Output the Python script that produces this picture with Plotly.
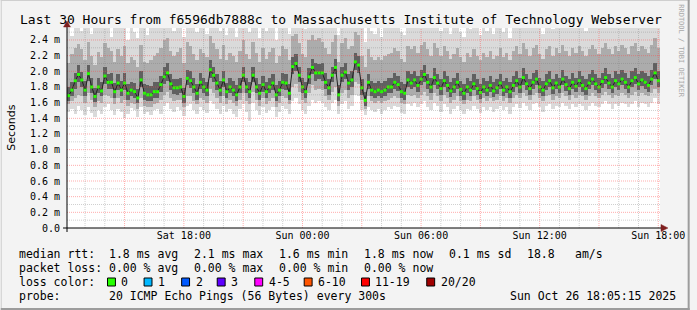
import plotly.graph_objects as go
import pandas as pd

# ---------------- data (ms) ----------------
rtt_median = [1.69,1.76,1.88,1.96,1.89,1.76,1.97,1.80,1.68,1.80,
1.75,1.94,1.86,1.86,1.74,1.85,1.76,1.85,1.72,1.76,
1.74,1.66,1.89,1.72,1.70,1.70,1.74,1.74,1.83,1.93,
1.98,1.84,1.79,1.79,1.80,1.68,1.91,1.88,1.80,1.72,
1.86,1.80,1.76,2.02,1.95,1.85,1.76,1.89,1.74,1.80,
1.76,1.70,1.80,1.95,1.80,1.74,1.95,1.80,1.72,1.83,
1.74,1.80,1.85,1.70,1.76,1.86,1.85,1.72,2.06,2.10,
1.95,1.80,1.74,1.93,2.05,1.98,1.98,1.98,1.86,1.79,
1.95,2.05,1.70,1.95,1.99,1.85,1.89,2.12,2.08,1.79,
1.63,1.86,1.76,1.74,1.76,1.74,1.76,1.80,1.80,1.86,
1.83,1.74,1.72,1.89,1.85,1.89,1.82,1.90,1.96,1.86,
1.80,1.92,1.85,1.78,1.88,1.82,1.75,1.80,1.86,1.77,
1.72,1.80,1.76,1.84,1.78,1.73,1.80,1.76,1.82,1.75,
1.79,1.85,1.76,1.80,1.74,1.82,1.88,1.80,1.92,1.84,
1.78,1.86,1.90,1.80,1.76,1.84,1.88,1.79,1.85,1.80,
1.90,1.83,1.78,1.86,1.81,1.88,1.82,1.78,1.85,1.90,
1.84,1.80,1.87,1.92,1.85,1.80,1.88,1.84,1.90,1.86,
1.80,1.88,1.92,1.84,1.89,1.86,1.82,1.90,1.98,1.88]

rtt_core_lo = [1.62,1.68,1.78,1.86,1.80,1.68,1.88,1.72,1.61,1.72,
1.68,1.84,1.78,1.78,1.66,1.76,1.68,1.76,1.64,1.68,
1.66,1.59,1.80,1.64,1.62,1.62,1.66,1.66,1.74,1.84,
1.88,1.76,1.71,1.70,1.72,1.60,1.82,1.79,1.72,1.64,
1.78,1.72,1.68,1.92,1.86,1.76,1.68,1.80,1.66,1.72,
1.68,1.62,1.72,1.86,1.72,1.66,1.86,1.72,1.64,1.74,
1.66,1.72,1.76,1.62,1.68,1.78,1.76,1.64,1.96,2.00,
1.86,1.72,1.66,1.84,1.96,1.88,1.90,1.88,1.78,1.70,
1.86,1.96,1.62,1.86,1.90,1.76,1.80,2.02,1.98,1.70,
1.56,1.78,1.68,1.66,1.68,1.66,1.68,1.72,1.72,1.78,
1.75,1.66,1.64,1.80,1.77,1.80,1.74,1.82,1.87,1.78,
1.72,1.83,1.77,1.70,1.80,1.74,1.67,1.72,1.78,1.69,
1.64,1.72,1.68,1.76,1.70,1.65,1.72,1.68,1.74,1.67,
1.71,1.77,1.68,1.72,1.66,1.74,1.80,1.72,1.83,1.76,
1.70,1.78,1.82,1.72,1.68,1.76,1.80,1.71,1.77,1.72,
1.82,1.75,1.70,1.78,1.73,1.80,1.74,1.70,1.77,1.82,
1.76,1.72,1.79,1.84,1.77,1.72,1.80,1.76,1.82,1.78,
1.72,1.80,1.84,1.76,1.81,1.78,1.74,1.82,1.90,1.80]

rtt_core_hi = [1.80,1.86,1.98,2.08,1.99,1.88,2.08,1.92,1.79,1.92,
1.86,2.06,1.97,1.98,1.85,1.96,1.88,1.98,1.84,1.87,
1.85,1.78,2.00,1.84,1.82,1.81,1.86,1.86,1.94,2.05,
2.10,1.96,1.90,1.90,1.92,1.79,2.02,2.00,1.91,1.84,
1.98,1.92,1.87,2.14,2.06,1.96,1.88,2.00,1.85,1.91,
1.88,1.82,1.92,2.06,1.92,1.86,2.06,1.92,1.84,1.94,
1.86,1.92,1.96,1.82,1.88,1.98,1.96,1.84,2.18,2.22,
2.06,1.92,1.86,2.04,2.16,2.10,2.09,2.10,1.98,1.90,
2.06,2.16,1.82,2.06,2.10,1.96,2.00,2.24,2.20,1.90,
1.74,1.97,1.88,1.85,1.88,1.85,1.88,1.92,1.91,1.98,
1.94,1.86,1.84,2.00,1.96,2.00,1.94,2.02,2.08,1.97,
1.92,2.04,1.96,1.90,2.00,1.94,1.86,1.92,1.98,1.88,
1.84,1.92,1.88,1.96,1.90,1.84,1.92,1.88,1.94,1.86,
1.90,1.96,1.88,1.92,1.86,1.94,2.00,1.92,2.04,1.96,
1.90,1.98,2.02,1.92,1.88,1.96,2.00,1.90,1.96,1.92,
2.02,1.94,1.90,1.98,1.92,2.00,1.94,1.90,1.96,2.02,
1.96,1.92,1.98,2.04,1.96,1.92,2.00,1.96,2.02,1.98,
1.92,2.00,2.04,1.96,2.00,1.98,1.94,2.02,2.10,2.00]

rtt_q_lo = [1.58,1.62,1.66,1.70,1.68,1.60,1.72,1.64,1.55,1.62,
1.60,1.70,1.68,1.66,1.58,1.66,1.60,1.64,1.56,1.60,
1.58,1.52,1.66,1.56,1.55,1.54,1.58,1.60,1.64,1.70,
1.74,1.66,1.62,1.64,1.63,1.54,1.68,1.68,1.62,1.58,
1.66,1.64,1.60,1.78,1.72,1.66,1.60,1.68,1.58,1.64,
1.60,1.56,1.64,1.72,1.62,1.58,1.74,1.64,1.56,1.66,
1.58,1.62,1.66,1.55,1.60,1.68,1.66,1.58,1.80,1.84,
1.74,1.64,1.60,1.72,1.82,1.76,1.78,1.76,1.68,1.64,
1.74,1.80,1.56,1.72,1.76,1.66,1.70,1.86,1.84,1.64,
1.52,1.68,1.62,1.60,1.62,1.60,1.62,1.64,1.66,1.68,
1.66,1.60,1.58,1.70,1.68,1.70,1.66,1.70,1.74,1.68,
1.64,1.72,1.68,1.62,1.70,1.66,1.60,1.64,1.68,1.62,
1.58,1.64,1.62,1.68,1.64,1.60,1.66,1.62,1.66,1.62,
1.64,1.68,1.62,1.66,1.60,1.66,1.70,1.66,1.72,1.68,
1.64,1.70,1.72,1.66,1.62,1.68,1.70,1.64,1.68,1.66,
1.72,1.68,1.64,1.70,1.66,1.70,1.68,1.64,1.68,1.72,
1.68,1.66,1.70,1.74,1.70,1.66,1.70,1.68,1.72,1.70,
1.66,1.70,1.74,1.68,1.72,1.70,1.68,1.72,1.78,1.72]

rtt_min = [1.48,1.52,1.45,1.56,1.50,1.44,1.55,1.47,1.42,1.50,
1.46,1.54,1.58,1.50,1.44,1.52,1.48,1.40,1.46,1.53,
1.50,1.42,1.55,1.45,1.48,1.44,1.50,1.52,1.46,1.56,
1.60,1.52,1.48,1.54,1.50,1.43,1.56,1.58,1.50,1.46,
1.55,1.50,1.47,1.62,1.58,1.52,1.45,1.56,1.48,1.52,
1.46,1.42,1.52,1.58,1.48,1.36,1.60,1.50,1.44,1.54,
1.47,1.50,1.55,1.42,1.48,1.56,1.52,1.45,1.62,1.66,
1.58,1.50,1.46,1.56,1.64,1.60,1.62,1.60,1.55,1.50,
1.60,1.64,1.45,1.58,1.62,1.52,1.56,1.70,1.68,1.50,
1.44,1.55,1.50,1.48,1.52,1.46,1.50,1.54,1.52,1.56,
1.54,1.47,1.45,1.58,1.56,1.60,1.54,1.58,1.62,1.55,
1.50,1.60,1.56,1.48,1.58,1.54,1.46,1.52,1.56,1.50,
1.45,1.52,1.50,1.56,1.52,1.47,1.55,1.50,1.54,1.48,
1.52,1.56,1.50,1.55,1.46,1.54,1.58,1.53,1.60,1.56,
1.50,1.58,1.60,1.54,1.48,1.56,1.58,1.52,1.56,1.54,
1.60,1.56,1.52,1.58,1.54,1.58,1.56,1.50,1.56,1.60,
1.56,1.54,1.58,1.62,1.58,1.52,1.58,1.56,1.60,1.58,
1.54,1.58,1.62,1.55,1.60,1.58,1.55,1.60,1.66,1.58]

rtt_q_hi = [2.10,2.22,2.30,2.35,2.28,2.15,2.38,2.20,2.08,2.25,
2.18,2.36,2.30,2.26,2.12,2.28,2.20,2.32,2.10,2.18,
2.15,2.05,2.34,2.12,2.10,2.14,2.20,2.24,2.30,2.40,
2.42,2.26,2.20,2.25,2.30,2.10,2.38,2.32,2.22,2.14,
2.28,2.24,2.18,2.45,2.36,2.28,2.16,2.34,2.15,2.24,
2.20,2.12,2.26,2.40,2.22,2.16,2.38,2.24,2.12,2.30,
2.16,2.25,2.30,2.10,2.20,2.32,2.28,2.14,2.45,2.48,
2.36,2.22,2.18,2.40,2.46,2.40,2.42,2.38,2.30,2.22,
2.38,2.46,2.12,2.36,2.42,2.28,2.32,2.50,2.46,2.20,
2.05,2.28,2.18,2.15,2.18,2.14,2.20,2.22,2.24,2.30,
2.26,2.16,2.12,2.32,2.28,2.32,2.24,2.34,2.38,2.28,
2.20,2.36,2.30,2.20,2.32,2.26,2.16,2.22,2.30,2.18,
2.12,2.24,2.18,2.28,2.20,2.14,2.24,2.18,2.26,2.16,
2.20,2.30,2.18,2.24,2.14,2.26,2.32,2.22,2.36,2.28,
2.20,2.30,2.34,2.22,2.16,2.28,2.32,2.20,2.30,2.24,
2.34,2.26,2.20,2.30,2.24,2.32,2.26,2.20,2.28,2.34,
2.28,2.22,2.30,2.36,2.28,2.22,2.32,2.26,2.34,2.30,
2.22,2.32,2.36,2.26,2.32,2.28,2.24,2.34,2.42,2.30]

rtt_max = [2.60,2.45,2.70,2.80,2.52,2.65,2.90,2.48,2.55,2.75,
2.62,2.85,2.70,2.44,2.58,2.80,2.66,2.72,2.40,2.60,
2.50,2.42,2.78,2.60,2.46,2.55,2.68,2.74,2.62,2.85,
2.90,2.70,2.52,2.64,2.76,2.44,2.88,2.70,2.58,2.50,
2.72,2.66,2.48,2.95,2.80,2.68,2.52,2.78,2.46,2.62,
2.58,2.44,2.70,2.86,2.60,2.50,2.82,2.66,2.42,2.74,
2.52,2.64,2.76,2.40,2.58,2.80,2.70,2.48,2.92,2.95,
2.80,2.60,2.54,2.86,2.94,2.82,2.88,2.78,2.66,2.58,
2.84,2.92,2.46,2.80,2.88,2.70,2.74,2.96,2.90,2.56,
2.38,2.66,2.52,2.48,2.56,2.44,2.60,2.64,2.58,2.72,
2.68,2.50,2.46,2.76,2.70,2.78,2.62,2.80,2.84,2.70,
2.56,2.82,2.74,2.52,2.76,2.64,2.48,2.60,2.72,2.50,
2.44,2.62,2.54,2.70,2.56,2.46,2.66,2.52,2.68,2.48,
2.58,2.72,2.50,2.64,2.42,2.66,2.76,2.60,2.82,2.70,
2.56,2.74,2.80,2.60,2.48,2.70,2.76,2.54,2.72,2.62,
2.80,2.66,2.56,2.74,2.62,2.78,2.68,2.52,2.70,2.80,
2.70,2.60,2.74,2.84,2.70,2.58,2.76,2.64,2.80,2.72,
2.58,2.76,2.84,2.66,2.76,2.70,2.62,2.78,2.90,2.72]

x_tick_times = ["2025-10-25 18:00", "2025-10-26 00:00", "2025-10-26 06:00",
                "2025-10-26 12:00", "2025-10-26 18:00"]
x_tick_labels = ["Sat 18:00", "Sun 00:00", "Sun 06:00", "Sun 12:00", "Sun 18:00"]
y_tick_values = [0.0, 0.2, 0.4, 0.6, 0.8, 1.0, 1.2, 1.4, 1.6, 1.8, 2.0, 2.2, 2.4]
y_tick_labels = ["0.0", "0.2 m", "0.4 m", "0.6 m", "0.8 m", "1.0 m", "1.2 m",
                 "1.4 m", "1.6 m", "1.8 m", "2.0 m", "2.2 m", "2.4 m"]

loss_labels = ["0", "1", "2", "3", "4-5", "6-10", "11-19", "20/20"]
loss_colors = ["#26ff00", "#00b8ff", "#0059ff", "#5e00ff", "#ff00ff",
               "#ff5500", "#ff0000", "#a00000"]

# ---------------- geometry (pixels) ----------------
W, H = 697, 310
L, R, T, B = 67, 667, 28, 228
def px(x): return (x - L) / (R - L)
def py(y): return (B - y) / (B - T)

start = pd.Timestamp("2025-10-25 12:05:15")
end = pd.Timestamp("2025-10-26 18:05:15")
step = pd.Timedelta(minutes=10)
times = [start + step / 2 + i * step for i in range(len(rtt_median))]
width_ms = step.total_seconds() * 1000

MONO = "DejaVu Sans Mono"
fig = go.Figure()

def band(lo, hi, color):
    fig.add_trace(go.Bar(x=times, base=lo, y=[h - l for l, h in zip(lo, hi)],
                         width=width_ms, marker=dict(color=color, line=dict(width=0)),
                         hoverinfo="skip", showlegend=False))

band(rtt_min, rtt_max, "#dadada")
band(rtt_q_lo, rtt_q_hi, "#acacac")
band(rtt_core_lo, rtt_core_hi, "#606060")

fig.add_trace(go.Scatter(x=times, y=rtt_median, mode="lines+markers",
                         line=dict(color="#222222", width=1),
                         marker=dict(symbol="square", size=3, color=loss_colors[0],
                                     line=dict(width=0)),
                         hoverinfo="skip", showlegend=False))

shapes = []
# grid (drawn above smoke, as rrdtool does)
for k in range(1, 26):
    v = k / 10
    major = (k % 2 == 0) and v <= 2.4
    shapes.append(dict(type="line", xref="paper", yref="y", x0=0, x1=1, y0=v, y1=v,
                       layer="above",
                       line=dict(color="rgba(255,70,70,0.45)" if major else "rgba(120,120,120,0.35)",
                                 width=1, dash="1px,1px")))
t = pd.Timestamp("2025-10-25 13:00")
while t <= end:
    major = t.hour % 3 == 0
    shapes.append(dict(type="line", xref="x", yref="paper", x0=t, x1=t, y0=0, y1=1,
                       layer="above",
                       line=dict(color="rgba(255,70,70,0.45)" if major else "rgba(120,120,120,0.35)",
                                 width=1, dash="1px,1px")))
    t += pd.Timedelta(hours=1)

# axes lines and arrows
shapes.append(dict(type="line", xref="paper", yref="paper", x0=px(67), x1=px(67),
                   y0=py(232), y1=py(26), line=dict(color="black", width=1), layer="above"))
shapes.append(dict(type="line", xref="paper", yref="paper", x0=px(63), x1=px(671),
                   y0=py(228), y1=py(228), line=dict(color="black", width=1), layer="above"))
def tri(pts):
    p = "M " + " L ".join(f"{px(a)},{py(b)}" for a, b in pts) + " Z"
    return dict(type="path", xref="paper", yref="paper", path=p,
                fillcolor="#7f1f1f", line=dict(color="#7f1f1f", width=0.5), layer="above")
shapes.append(tri([(63.5, 27), (70.5, 27), (67, 21)]))
shapes.append(tri([(668, 224.5), (668, 231.5), (675, 228)]))

# legend boxes
box_x = [108, 145, 183, 219, 257, 307, 365, 431]
for bx, c in zip(box_x, loss_colors):
    shapes.append(dict(type="rect", xref="paper", yref="paper", x0=px(bx), x1=px(bx + 8),
                       y0=py(286), y1=py(278), fillcolor=c,
                       line=dict(color="black", width=1)))

# frame
shapes.append(dict(type="line", xref="paper", yref="paper", x0=px(0), x1=px(697),
                   y0=py(0.5), y1=py(0.5), line=dict(color="#cfcfcf", width=1)))
shapes.append(dict(type="line", xref="paper", yref="paper", x0=px(0.5), x1=px(0.5),
                   y0=py(0), y1=py(310), line=dict(color="#cfcfcf", width=1)))
shapes.append(dict(type="line", xref="paper", yref="paper", x0=px(0), x1=px(697),
                   y0=py(309), y1=py(309), line=dict(color="#9c9c9c", width=2)))
shapes.append(dict(type="line", xref="paper", yref="paper", x0=px(696), x1=px(696),
                   y0=py(0), y1=py(310), line=dict(color="#9c9c9c", width=2)))

ann = []
def text(x, y, s, size=11.5, anchor="left", family=MONO, color="#000", angle=0):
    ann.append(dict(x=px(x), y=py(y), xref="paper", yref="paper", text=s, showarrow=False,
                    xanchor=anchor, yanchor="middle", textangle=angle,
                    font=dict(family=family, size=size, color=color)))

text(344.5, 19, "Last 30 Hours from f6596db7888c to Massachusetts Institute of Technology Webserver",
     size=13, anchor="center")
text(10, 128, "Seconds", size=11, anchor="center", family="DejaVu Sans", angle=-90)
text(688, 51, "RRDTOOL / TOBI OETIKER", size=7, anchor="center", color="#a8a8a8", angle=90)

row1 = [(16, "median rtt:"), (107, "1.8 ms avg"), (193, "2.1 ms max"), (279, "1.6 ms min"),
        (365, "1.8 ms now"), (451, "0.1 ms sd"), (530, "18.8"), (579, "am/s")]
row2 = [(16, "packet loss:"), (107, "0.00 % avg"), (193, "0.00 % max"), (279, "0.00 % min"),
        (365, "0.00 % now")]
row4 = [(16, "probe:"), (107, "20 ICMP Echo Pings (56 Bytes) every 300s"),
        (513, "Sun Oct 26 18:05:15 2025")]
for x, s in row1:
    text(x, 254, s)
for x, s in row2:
    text(x, 268, s)
text(16, 282, "loss color:")
for bx, lab in zip(box_x, loss_labels):
    text(bx + 12, 282, lab)
for x, s in row4:
    text(x, 296, s)

fig.update_layout(
    width=W, height=H, margin=dict(l=L, r=W - R, t=T, b=H - B),
    paper_bgcolor="#f3f3f3", plot_bgcolor="white",
    barmode="overlay", bargap=0, showlegend=False,
    shapes=shapes, annotations=ann,
    xaxis=dict(range=[start, end], showgrid=False, zeroline=False, showline=False,
               tickvals=pd.to_datetime(x_tick_times), ticktext=x_tick_labels, ticks="",
               tickfont=dict(family=MONO, size=10, color="#000")),
    yaxis=dict(range=[0, 2.553], showgrid=False, zeroline=False, showline=False,
               tickvals=y_tick_values, ticktext=y_tick_labels, ticks="",
               ticklabelstandoff=6,
               tickfont=dict(family=MONO, size=10, color="#000")),
)

fig.write_html("out.html")
